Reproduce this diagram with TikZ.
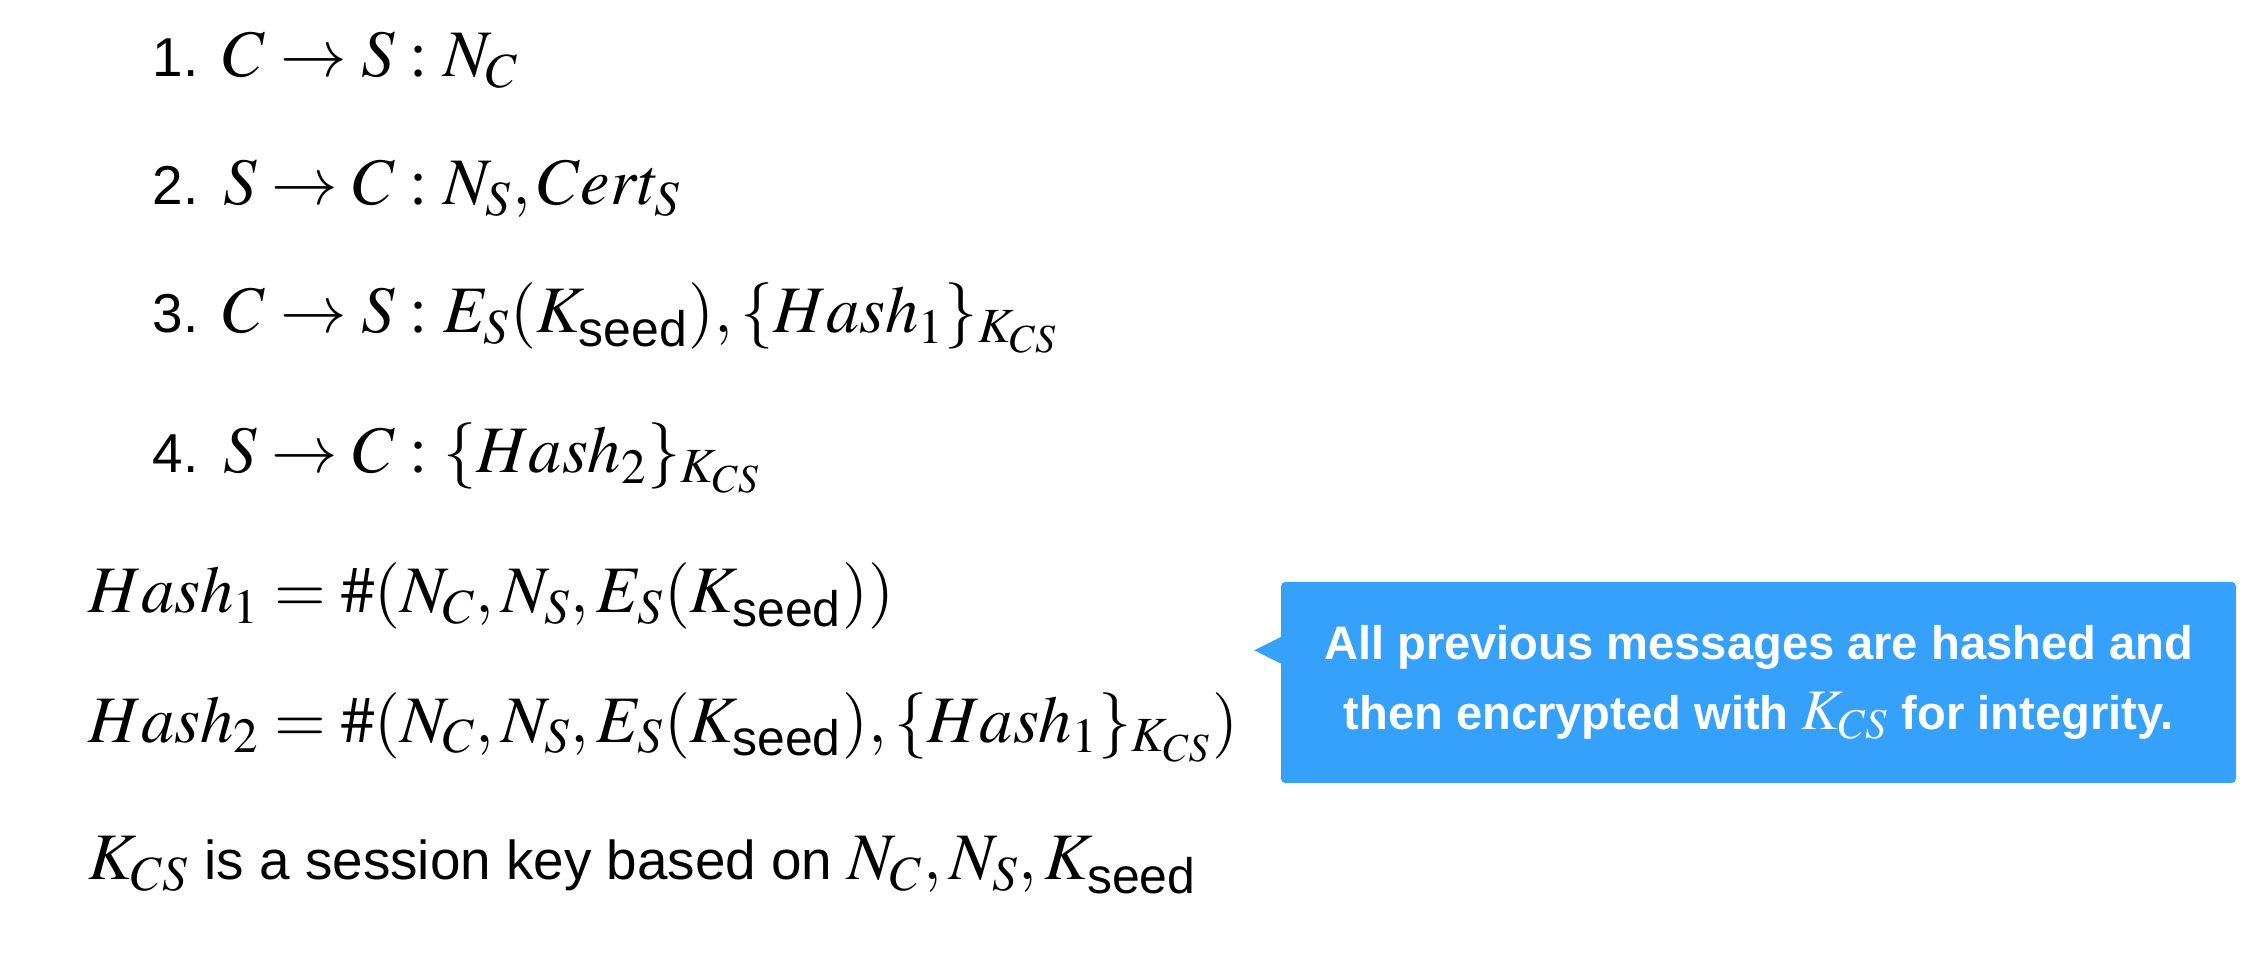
\documentclass[tikz,border=0pt]{standalone}
\usepackage{amsmath}
\usepackage{mathptmx}
\usepackage[no-math]{fontspec}
\setmainfont{Liberation Sans}
\definecolor{bleubulle}{RGB}{53,161,250}
\newcommand{\mth}[2][18.9]{{\fontsize{#1}{#1}\selectfont$#2$}}
\newcommand{\seed}{\text{\fontsize{14.2}{14.2}\selectfont seed}}
\begin{document}
\begin{tikzpicture}
	\tikzstyle{message}=[anchor=base west,inner sep=0pt,font=\fontsize{15.6}{18}\selectfont]
	\tikzset{bulle/.style={fill=bleubulle,rounded corners=1.2pt,text=white,align=center,minimum width=9.55cm,minimum height=2.01cm,inner sep=0pt,font=\fontsize{13.4}{19.9}\selectfont\bfseries}}
	\useasboundingbox (0,0) rectangle (22.62,9.52);
	\node[message] (m1) at (1.52,8.75) {1.\hspace{7pt}\mth{C\rightarrow S:N_C}};
	\node[message] (m2) at (1.52,7.47) {2.\hspace{7pt}\mth{S\rightarrow C:N_S,Cert_S}};
	\node[message] (m3) at (1.52,6.19) {3.\hspace{7pt}\mth{C\rightarrow S:E_S(K_\seed),\{Hash_1\}_{K_{CS}}}};
	\node[message] (m4) at (1.52,4.79) {4.\hspace{7pt}\mth{S\rightarrow C:\{Hash_2\}_{K_{CS}}}};
	\node[message] (h1) at (0.88,3.39) {\mth{Hash_1=\#(N_C,N_S,E_S(K_\seed))}};
	\node[message] (h2) at (0.88,2.10) {\mth{Hash_2=\#(N_C,N_S,E_S(K_\seed),\{Hash_1\}_{K_{CS}})}};
	\node[message] (kcs) at (0.88,0.72) {\mth{K_{CS}} is a session key based on \mth{N_C,N_S,K_\seed}};
	\node[bulle] (note) at (17.585,2.695) {All previous messages are hashed and\\then encrypted with \mth[16.3]{K_{CS}} for integrity.};
	\fill[bleubulle] (note.north west) ++(0.02,-0.55) -- ++(-0.28,-0.14) -- ++(0.28,-0.14) -- cycle;
\end{tikzpicture}
\end{document}
